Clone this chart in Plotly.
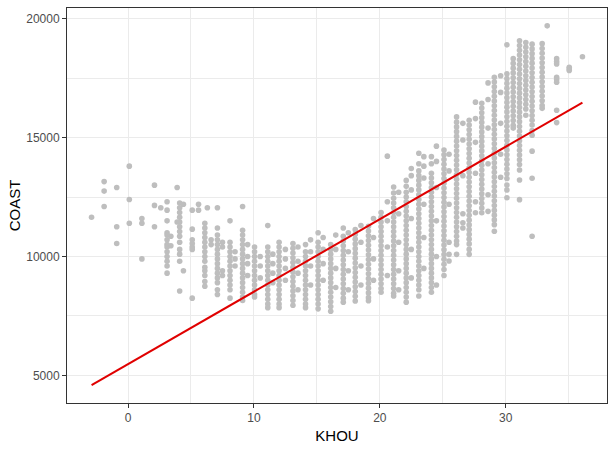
import plotly.graph_objects as go

# KHOU temperature columns and the COAST load values read in each column
col_khou = [-2.9, -1.9, -0.9, 0.1, 1.1, 2.1, 2.6, 3.1, 3.4, 3.9, 4.1, 4.4, 5.1, 5.6, 6.1, 6.3, 6.6,
            7.1, 7.5, 8.1, 8.5, 9.1, 9.5, 10.05, 10.5, 11.1, 11.5, 12.0, 12.5, 13.1, 13.5, 14.1, 14.5,
            15.1, 15.5, 16.1, 16.5, 17.1, 17.5, 18.05, 18.5, 19.1, 19.5, 20.1, 20.6, 21.1, 21.5,
            22.1, 22.5, 23.1, 23.5, 24.1, 24.5, 25.1, 25.5, 26.1, 26.6, 27.1, 27.6, 28.1, 28.6,
            29.1, 29.6, 30.1, 30.6, 31.1, 31.6, 32.1, 32.9, 33.3, 34.05, 35.05, 36.1]

col_coast = [
    [11650],
    [13150, 12750, 12100],
    [12900, 11250, 10550],
    [13800, 12400, 11400],
    [11600, 11400, 9900],
    [13000, 12150, 11250],
    [12050],
    [12300, 11950, 11500, 11000, 10900, 10700, 10500, 10400, 10200, 10000, 9800, 9600, 9300],
    [10850, 10450],
    [12900, 11450],
    [12250, 12050, 11850, 11650, 11450, 11250, 11050, 10850, 10600, 10300, 10100, 9800, 8550],
    [12200, 9400],
    [11950, 11150, 10700, 10550, 10400, 10300, 8250],
    [12200, 11950],
    [11400, 11200, 11000, 10800, 10600, 10400, 10200, 10000, 9800, 9550, 9400, 9200, 8950, 8750],
    [12050],
    [10700, 10500],
    [12050, 11200, 10900, 10700, 10500, 10300, 10100, 9900, 9700, 9500, 9300, 9100, 8900, 8600, 8400],
    [10600, 10400, 9400, 9200],
    [11500, 10600, 10400, 10200, 10000, 9800, 9600, 9400, 9200, 9000, 8800, 8600, 8250],
    [10200, 9900, 9600],
    [12100, 11100, 10900, 10700, 10500, 10300, 10100, 9900, 9700, 9500, 9300, 9100, 8900, 8700, 8500, 8300, 8150],
    [10500, 10000, 9700, 9200],
    [10400, 10200, 10000, 9800, 9600, 9400, 9200, 9000, 8800, 8600, 8400, 8300],
    [10000, 9600, 9100],
    [11300, 10400, 10200, 10000, 9800, 9600, 9400, 9200, 9000, 8800, 8600, 8400, 8200, 8000, 7850],
    [10100, 9700, 9300, 8900],
    [10600, 10400, 10200, 10000, 9800, 9600, 9400, 9200, 9000, 8800, 8600, 8400, 8200, 8000, 7850],
    [10300, 9900, 9500, 9000],
    [10550, 10350, 10150, 9950, 9750, 9550, 9350, 9150, 8950, 8750, 8550, 8350, 8150, 7950],
    [10400, 9800, 9300, 8600],
    [10500, 10200, 10000, 9800, 9600, 9400, 9200, 9000, 8800, 8600, 8400, 8200, 8000, 7850],
    [10700, 10200, 9600, 8800],
    [11000, 10600, 10400, 10200, 10000, 9800, 9600, 9400, 9200, 9000, 8800, 8600, 8400, 8200, 8000, 7800],
    [10800, 10300, 9700, 9000],
    [10500, 10300, 10100, 9900, 9700, 9500, 9300, 9100, 8900, 8700, 8500, 8300, 8100, 7900, 7700],
    [10900, 10300, 9500, 8700],
    [11200, 10850, 10650, 10450, 10250, 10050, 9850, 9650, 9450, 9250, 9050, 8850, 8650, 8450, 8250, 8080],
    [11000, 10200, 9400, 8600],
    [11130, 10930, 10730, 10530, 10330, 10130, 9930, 9730, 9530, 9330, 9130, 8930, 8730, 8530, 8330, 8130],
    [11300, 10600, 9600, 8800],
    [11270, 11070, 10870, 10670, 10470, 10270, 10070, 9870, 9670, 9470, 9270, 9070, 8870, 8670, 8470, 8270, 8140],
    [11600, 10800, 9900, 9000],
    [11850, 11650, 11450, 11250, 11050, 10850, 10650, 10450, 10250, 10050, 9850, 9650, 9450, 9250, 9050, 8850, 8650, 8500],
    [14220, 12300, 11500, 10400, 9200],
    [12920, 12670, 12450, 12250, 12050, 11850, 11650, 11450, 11250, 11050, 10850, 10650, 10450, 10250, 10050,
     9850, 9650, 9450, 9250, 9050, 8850, 8650, 8450, 8340],
    [12700, 11800, 10600, 9400, 8600],
    [13200, 12950, 12700, 12500, 12300, 12100, 11900, 11700, 11500, 11300, 11100, 10900, 10700, 10500, 10300,
     10100, 9900, 9700, 9500, 9300, 9100, 8900, 8700, 8500, 8300, 8080],
    [13700, 13400, 12800, 11600, 10300, 9100],
    [14340, 13900, 13600, 13400, 13200, 13000, 12800, 12600, 12400, 12200, 12000, 11800, 11600, 11400, 11200,
     11000, 10800, 10600, 10400, 10200, 10000, 9800, 9600, 9400, 9200, 9000, 8800, 8600, 8340],
    [14200, 13800, 13300, 12200, 10800, 9500],
    [14200, 13900, 13500, 13300, 13100, 12900, 12700, 12500, 12300, 12100, 11900, 11700, 11500, 11300, 11100,
     10900, 10700, 10500, 10300, 10100, 9900, 9700, 9500, 9300, 9100, 8900, 8700, 8500],
    [14640, 14000, 12900, 11500, 10000, 8800],
    [14480, 14280, 14080, 13880, 13680, 13480, 13280, 13080, 12880, 12680, 12480, 12280, 12080, 11880, 11680,
     11480, 11280, 11080, 10880, 10680, 10480, 10280, 10080, 9880, 9670, 9450, 9200],
    [14300, 13600, 12200, 10600, 10090, 9810],
    [15870, 15650, 15450, 15250, 15050, 14850, 14650, 14450, 14250, 14050, 13850, 13650, 13450, 13250, 13050,
     12850, 12650, 12450, 12250, 12050, 11850, 11650, 11450, 11250, 11050, 10850, 10650, 10500, 10090],
    [15600, 14900, 13400, 11800, 11420, 11200],
    [15730, 15530, 15330, 15130, 14930, 14730, 14530, 14330, 14130, 13930, 13730, 13530, 13330, 13130, 12930,
     12730, 12530, 12330, 12130, 11930, 11730, 11530, 11330, 11130, 10930, 10730, 10530, 10300, 10090],
    [16490, 15800, 14800, 13500, 12300, 11840],
    [16440, 16240, 16040, 15840, 15640, 15440, 15240, 15040, 14840, 14640, 14440, 14240, 14040, 13840, 13640,
     13440, 13240, 13040, 12840, 12640, 12440, 12240, 12040, 11840],
    [17300, 16600, 15400, 13900, 12600, 11900],
    [17540, 17340, 17140, 16940, 16740, 16540, 16340, 16140, 15940, 15740, 15540, 15340, 15140, 14940, 14740,
     14540, 14340, 14140, 13940, 13740, 13540, 13340, 13140, 12940, 12740, 12540, 12340, 12140, 11940, 11740,
     11540, 11340, 11060],
    [17600, 16900, 15600, 14300, 13330],
    [18900, 17680, 17480, 17280, 17080, 16880, 16680, 16480, 16280, 16080, 15880, 15680, 15480, 15280, 15080,
     14880, 14680, 14480, 14280, 14080, 13880, 13680, 13480, 13280, 13010, 12800, 12470],
    [18320, 18120, 17920, 17720, 17520, 17320, 17120, 16920, 16720, 16520, 16320, 16120, 15920, 15720, 15520, 15400],
    [19070, 18870, 18670, 18470, 18270, 18070, 17870, 17670, 17470, 17270, 17070, 16870, 16670, 16470, 16270,
     16070, 15870, 15670, 15470, 15270, 15070, 14870, 14670, 14470, 14270, 14070, 13870, 13640, 13220, 12390],
    [19000, 18800, 18600, 18400, 18200, 18000, 17800, 17600, 17400, 17200, 17000, 16800, 16600, 16400, 16200, 15940],
    [18930, 18730, 18530, 18330, 18130, 17930, 17730, 17530, 17330, 17130, 16930, 16730, 16530, 16330, 16130,
     15930, 15730, 15530, 15300, 15100, 14430, 13290, 10850],
    [18950, 18750, 18550, 18350, 18150, 17950, 17750, 17550, 17350, 17150, 16950, 16750, 16550, 16350, 16230],
    [19700],
    [18320, 18200, 18100, 17540, 17440, 17330, 16150, 15630],
    [17960, 17890, 17820],
    [18400],
]

# fitted regression line (KHOU range ends)
fit_khou = [-2.9, 36.1]
fit_coast = [4590, 16475]

x_ticks = [0, 10, 20, 30]
x_tick_labels = ["0", "10", "20", "30"]
y_ticks = [5000, 10000, 15000, 20000]
y_tick_labels = ["5000", "10000", "15000", "20000"]

khou = [x for x, ys in zip(col_khou, col_coast) for _ in ys]
coast = [y for ys in col_coast for y in ys]

FONT = "Liberation Sans, Arial, sans-serif"

fig = go.Figure()
fig.add_trace(go.Scatter(x=khou, y=coast, mode="markers",
                         marker=dict(color="#BEBEBE", size=5.6, line=dict(width=0)),
                         showlegend=False, hoverinfo="x+y"))
fig.add_trace(go.Scatter(x=fit_khou, y=fit_coast, mode="lines",
                         line=dict(color="#E00000", width=2), showlegend=False))

axis_common = dict(
    showline=True, linecolor="#333333", linewidth=1, mirror=True,
    ticks="outside", ticklen=4, tickcolor="#333333", tickwidth=1,
    tickfont=dict(family=FONT, size=12, color="#4D4D4D"),
    showgrid=True, gridcolor="#EBEBEB", gridwidth=1.1, zeroline=False,
)

fig.update_xaxes(range=[-4.85, 38.05], tickvals=x_ticks, ticktext=x_tick_labels,
                 minor=dict(showgrid=True, gridcolor="#EBEBEB", gridwidth=0.6, tickvals=[-5, 5, 15, 25, 35]),
                 title=dict(text="KHOU", font=dict(family=FONT, size=15, color="#000000"), standoff=6),
                 **axis_common)
fig.update_yaxes(range=[3840, 20450], tickvals=y_ticks, ticktext=y_tick_labels,
                 minor=dict(showgrid=True, gridcolor="#EBEBEB", gridwidth=0.6, tickvals=[7500, 12500, 17500]),
                 title=dict(text="COAST", font=dict(family=FONT, size=15, color="#000000"), standoff=1),
                 **axis_common)

fig.update_layout(
    width=615, height=449,
    margin=dict(l=67, r=8, t=7, b=45),
    paper_bgcolor="white", plot_bgcolor="white",
    font=dict(family=FONT),
)

fig.write_html("out.html")
